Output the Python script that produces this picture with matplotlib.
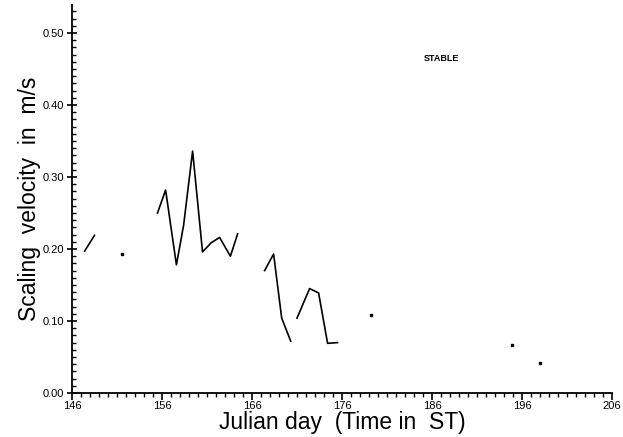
import numpy as np
import matplotlib
matplotlib.use("Agg")
import matplotlib.pyplot as plt
from matplotlib.ticker import MultipleLocator, FormatStrFormatter

plt.rcParams['font.family'] = ['Liberation Sans', 'DejaVu Sans']

# connected runs (nan = gap in record)
day = [147.4, 148.5, np.nan,
       155.5, 156.4, 157.6, 158.4, 159.4, 160.5, 161.5, 162.4, 163.6, 164.4, np.nan,
       167.4, 168.4, 169.3, 170.3, np.nan,
       171.0, 172.4, 173.4, 174.4, 175.5]
vel = [0.197, 0.219, np.nan,
       0.250, 0.282, 0.178, 0.233, 0.336, 0.196, 0.209, 0.216, 0.190, 0.221, np.nan,
       0.170, 0.193, 0.104, 0.072, np.nan,
       0.104, 0.145, 0.139, 0.069, 0.070]

# single days with no neighbours
day_pts = [151.6, 179.2, 194.9, 198.0]
vel_pts = [0.193, 0.109, 0.067, 0.042]

xticks = [146, 156, 166, 176, 186, 196, 206]
yticks = [0.0, 0.1, 0.2, 0.3, 0.4, 0.5]

fig = plt.figure(figsize=(6.23, 4.37), dpi=100)
ax = fig.add_axes([0.1156, 0.1007, 0.8667, 0.888])

ax.plot(day, vel, color='black', lw=1.2)
ax.plot(day_pts, vel_pts, 's', color='black', ms=2)

ax.set_xlim(146, 206)
ax.set_ylim(0, 0.539)
ax.set_xticks(xticks)
ax.xaxis.set_minor_locator(MultipleLocator(1))
ax.set_yticks(yticks)
ax.yaxis.set_minor_locator(MultipleLocator(0.01))
ax.yaxis.set_major_formatter(FormatStrFormatter('%.2f'))

for s in ['top', 'right']:
    ax.spines[s].set_visible(False)
ax.spines['left'].set_linewidth(1.3)
ax.spines['bottom'].set_linewidth(1.3)

ax.tick_params(axis='x', which='major', direction='out', length=5, width=1.2, labelsize=8, pad=1)
ax.tick_params(axis='x', which='minor', direction='out', length=3, width=1.0)
ax.tick_params(axis='y', which='major', direction='inout', length=7, width=1.2, labelsize=8, pad=2)
ax.tick_params(axis='y', which='minor', direction='in', length=3, width=1.0)

ax.set_xlabel('Julian day  (Time in  ST)', fontsize=16.5, labelpad=0)
ax.set_ylabel('Scaling  velocity  in  m/s', fontsize=16.5, labelpad=1)

ax.text(0.685, 0.863, 'STABLE', transform=ax.transAxes, fontsize=6.5,
        fontweight='bold', ha='center', va='center')

fig.savefig('out.png', dpi=100)
